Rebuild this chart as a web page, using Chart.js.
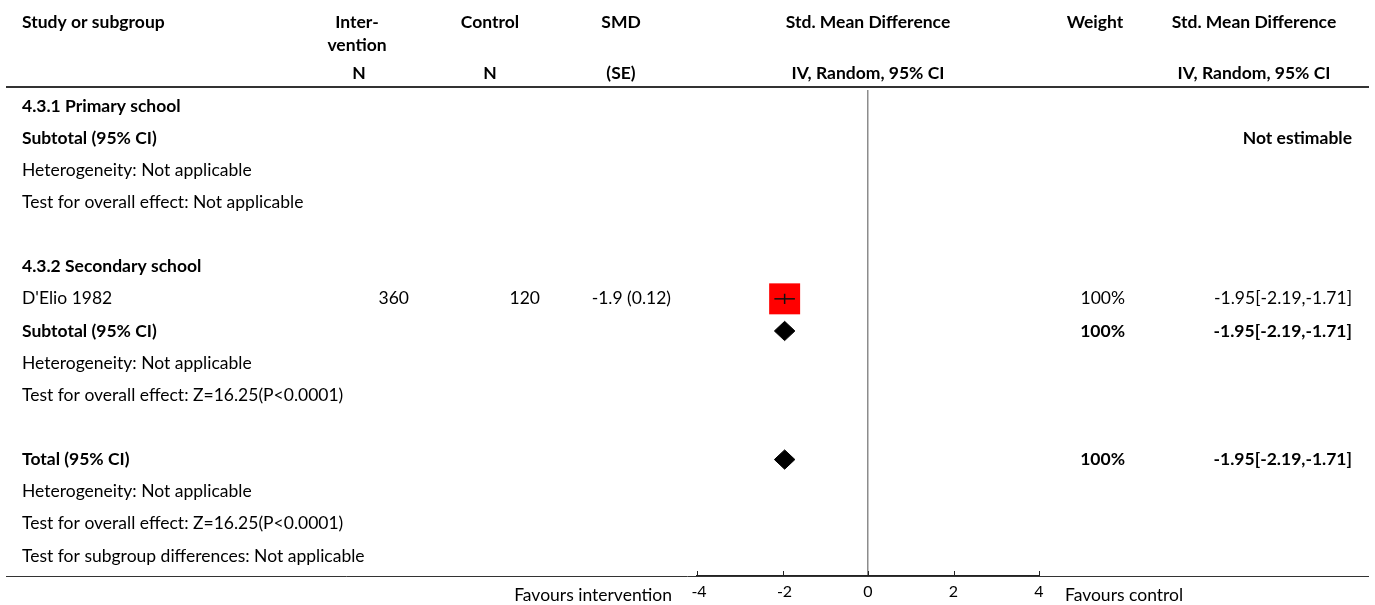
<!DOCTYPE html>
<html><head><meta charset="utf-8">
<script src="https://cdn.jsdelivr.net/npm/chart.js@4.4.1/dist/chart.umd.min.js"></script>
<style>html,body{margin:0;padding:0;background:#fff;overflow:hidden}#wrap{width:1375px;height:605px;position:relative}</style>
</head><body><div id="wrap"><canvas id="c" width="1375" height="605"></canvas></div>
<script>
const FAMILY = 'Lato, "Noto Sans", sans-serif';

// ---- data ----
const rowLabels = [
  "4.3.1 Primary school",
  "Subtotal (95% CI)",
  "Heterogeneity: Not applicable",
  "Test for overall effect: Not applicable",
  "",
  "4.3.2 Secondary school",
  "D'Elio 1982",
  "Subtotal (95% CI)",
  "Heterogeneity: Not applicable",
  "Test for overall effect: Z=16.25(P<0.0001)",
  "",
  "Total (95% CI)",
  "Heterogeneity: Not applicable",
  "Test for overall effect: Z=16.25(P<0.0001)",
  "Test for subgroup differences: Not applicable"
];
const boldRows = [0, 1, 5, 7, 11];

const studyRows = [6];
const interventionN = ["360"];
const controlN = ["120"];
const smdSE = ["-1.9 (0.12)"];
const studyEst = [-1.95];
const studyLo = [-2.19];
const studyHi = [-1.71];
const studyWeight = ["100%"];
const studyCI = ["-1.95[-2.19,-1.71]"];

const pooledRows = [7, 11];
const pooledEst = [-1.95, -1.95];
const pooledLo = [-2.19, -2.19];
const pooledHi = [-1.71, -1.71];
const pooledWeight = ["100%", "100%"];
const pooledCI = ["-1.95[-2.19,-1.71]", "-1.95[-2.19,-1.71]"];

const notEstimableRows = [1];
const xTicks = [-4, -2, 0, 2, 4];

// ---- layout helpers ----
const ROW0 = 106, PITCH = 32.14;
const yMin = (90 - ROW0) / PITCH;
const yMax = (576 - ROW0) / PITCH;

function fitSize(bold) {
  const c = document.createElement('canvas').getContext('2d');
  c.font = (bold ? 'bold ' : '') + '100px ' + FAMILY;
  const w = c.measureText("Test for subgroup differences: Not applicable").width;
  return Math.round(100 * 347 / w * 2) / 2;
}

function build() {
  const FS = fitSize(false);
  const fReg = FS + 'px ' + FAMILY;
  const fBold = 'bold ' + FS + 'px ' + FAMILY;

  const datasets = [];
  studyRows.forEach((r, i) => {
    datasets.push({
      label: 'ci' + i, order: 0,
      data: [{x: studyLo[i], y: r}, {x: studyHi[i], y: r}],
      showLine: true, borderColor: '#111', borderWidth: 1.5, pointRadius: 0
    });
    datasets.push({
      label: 'est' + i, order: 0,
      data: [{x: studyEst[i], y: r - 0.16}, {x: studyEst[i], y: r + 0.16}],
      showLine: true, borderColor: '#111', borderWidth: 1.5, pointRadius: 0
    });
    datasets.push({
      label: 'sq' + i, order: 1,
      data: [{x: studyEst[i], y: r}],
      pointStyle: 'rect', pointRadius: 21.9, pointHoverRadius: 21.9,
      backgroundColor: '#ff0000', borderWidth: 0, pointBorderWidth: 0, showLine: false
    });
  });
  pooledRows.forEach((r, i) => {
    const h = 0.3;
    datasets.push({
      label: 'dm' + i, order: 0,
      data: [{x: pooledLo[i], y: r}, {x: pooledEst[i], y: r - h}, {x: pooledHi[i], y: r},
             {x: pooledEst[i], y: r + h}, {x: pooledLo[i], y: r}],
      showLine: true, fill: 'shape', borderColor: '#000', backgroundColor: '#000',
      borderWidth: 1, pointRadius: 0, tension: 0
    });
  });

  const tablePlugin = {
    id: 'table',
    afterDraw(chart) {
      const ctx = chart.ctx;
      const xs = chart.scales.x, ys = chart.scales.y;
      const ca = chart.chartArea;
      ctx.save();
      ctx.fillStyle = '#000';
      ctx.textBaseline = 'middle';
      function txt(s, x, y, align, bold, font) {
        ctx.font = font || (bold ? fBold : fReg);
        ctx.textAlign = align;
        ctx.fillText(s, x, y);
      }
      // headers
      txt('Study or subgroup', 22, 22, 'left', true);
      txt('Inter-', 357, 22, 'center', true);
      txt('vention', 357, 45, 'center', true);
      txt('Control', 490, 22, 'center', true);
      txt('SMD', 621, 22, 'center', true);
      txt('Std. Mean Difference', 868, 22, 'center', true);
      txt('Weight', 1095, 22, 'center', true);
      txt('Std. Mean Difference', 1254, 22, 'center', true);
      txt('N', 359, 73, 'center', true);
      txt('N', 490, 73, 'center', true);
      txt('(SE)', 621, 73, 'center', true);
      txt('IV, Random, 95% CI', 868, 73, 'center', true);
      txt('IV, Random, 95% CI', 1254, 73, 'center', true);

      // header rule
      ctx.strokeStyle = '#333';
      ctx.lineWidth = 2;
      ctx.beginPath(); ctx.moveTo(6, 87); ctx.lineTo(1369, 87); ctx.stroke();

      // rows
      rowLabels.forEach((s, r) => {
        if (s) txt(s, 22, ys.getPixelForValue(r), 'left', boldRows.includes(r));
      });
      studyRows.forEach((r, i) => {
        const y = ys.getPixelForValue(r);
        txt(interventionN[i], 409, y, 'right', false);
        txt(controlN[i], 540, y, 'right', false);
        txt(smdSE[i], 671, y, 'right', false);
        txt(studyWeight[i], 1125, y, 'right', false);
        txt(studyCI[i], 1352, y, 'right', false);
      });
      pooledRows.forEach((r, i) => {
        const y = ys.getPixelForValue(r);
        txt(pooledWeight[i], 1125, y, 'right', true);
        txt(pooledCI[i], 1352, y, 'right', true);
      });
      notEstimableRows.forEach(r => {
        txt('Not estimable', 1352, ys.getPixelForValue(r), 'right', true);
      });

      // bottom full-width line
      const by = ca.bottom;
      ctx.strokeStyle = '#333';
      ctx.lineWidth = 1;
      ctx.beginPath(); ctx.moveTo(6, by + 0.5); ctx.lineTo(1369, by + 0.5); ctx.stroke();
      // upward ticks and tick labels from the x scale
      ctx.strokeStyle = '#222';
      xs.ticks.forEach(t => {
        const px = xs.getPixelForValue(t.value);
        const x = Math.round(px) + 0.5;
        ctx.beginPath(); ctx.moveTo(x, by - 5); ctx.lineTo(x, by); ctx.stroke();
        txt(String(t.value), px + (t.value < 0 ? 2 : 0), 592, 'center', false, '16px ' + FAMILY);
      });
      // favours labels
      txt('Favours intervention', 672, 595, 'right', false);
      txt('Favours control', 1065, 595, 'left', false);
      ctx.restore();
    }
  };

  new Chart(document.getElementById('c'), {
    type: 'scatter',
    data: { datasets },
    options: {
      responsive: false,
      animation: false,
      events: [],
      layout: { padding: { left: 697, right: 336, top: 90, bottom: 0 } },
      plugins: { legend: { display: false }, tooltip: { enabled: false } },
      scales: {
        x: {
          type: 'linear', min: -4, max: 4,
          afterBuildTicks(scale) { scale.ticks = xTicks.map(v => ({value: v})); },
          afterFit(scale) { scale.height = 29; },
          ticks: { display: false },
          grid: {
            drawTicks: false,
            color: c => (c.tick && c.tick.value === 0) ? '#8c8c8c' : 'rgba(0,0,0,0)',
            lineWidth: 1.5
          },
          border: { display: true, color: '#222', width: 2 }
        },
        y: {
          type: 'linear', reverse: true, min: yMin, max: yMax, display: false
        }
      }
    },
    plugins: [tablePlugin]
  });
}

if (document.fonts && document.fonts.load) {
  Promise.all([document.fonts.load('16px Lato'), document.fonts.load('bold 16px Lato')])
    .then(build, build);
} else { build(); }
</script>
</body></html>
